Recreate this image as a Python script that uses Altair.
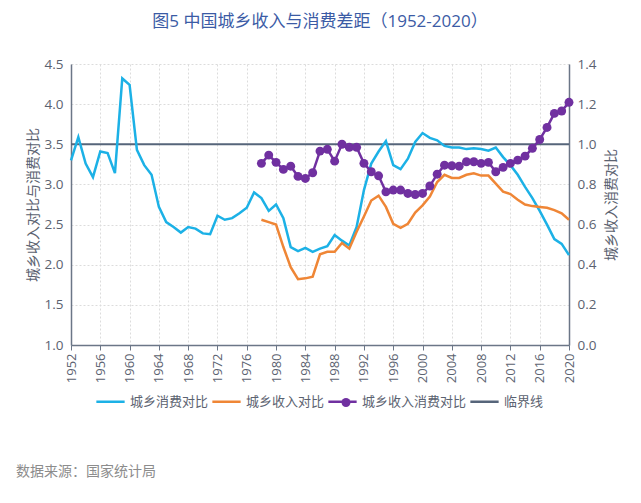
import altair as alt
import pandas as pd

# ---------------- data ----------------
years_all = list(range(1952, 2021))
consumption_ratio = [
    3.30, 3.59, 3.26, 3.09, 3.41, 3.39, 3.14, 4.32, 4.24, 3.43,
    3.24, 3.12, 2.72, 2.53, 2.47, 2.40, 2.47, 2.45, 2.39, 2.38,
    2.61, 2.56, 2.58, 2.64, 2.71, 2.90, 2.83, 2.67, 2.75, 2.58,
    2.22, 2.17, 2.21, 2.16, 2.20, 2.23, 2.37, 2.30, 2.24, 2.47,
    2.93, 3.26, 3.41, 3.54, 3.24, 3.19, 3.32, 3.53, 3.64, 3.58,
    3.55, 3.48, 3.46, 3.46, 3.44, 3.45, 3.44, 3.42, 3.46, 3.34,
    3.24, 3.12, 2.97, 2.83, 2.67, 2.50, 2.32, 2.26, 2.12,
]
years_ref = list(range(1978, 2021))
income_ratio = [
    2.56, 2.53, 2.50, 2.22, 1.97, 1.82, 1.83, 1.85, 2.13, 2.16,
    2.16, 2.27, 2.20, 2.41, 2.60, 2.80, 2.86, 2.72, 2.51, 2.46,
    2.51, 2.65, 2.74, 2.85, 3.03, 3.12, 3.08, 3.08, 3.12, 3.14,
    3.11, 3.11, 3.01, 2.91, 2.88, 2.81, 2.75, 2.73, 2.72, 2.71,
    2.68, 2.64, 2.56,
]
income_consumption_ratio = [
    0.905, 0.946, 0.910, 0.875, 0.891, 0.840, 0.830, 0.858, 0.966, 0.975,
    0.916, 1.000, 0.985, 0.985, 0.905, 0.863, 0.843, 0.763, 0.772, 0.772,
    0.755, 0.750, 0.755, 0.792, 0.851, 0.896, 0.893, 0.891, 0.913, 0.913,
    0.905, 0.910, 0.863, 0.885, 0.905, 0.921, 0.941, 0.980, 1.024, 1.084,
    1.154, 1.166, 1.209,
]
critical_value = [3.5]

series_names = ["城乡消费对比", "城乡收入对比", "城乡收入消费对比", "临界线"]
series_colors = ["#1cb1e6", "#ef8636", "#7030a0", "#56657a"]

x_ticks = list(range(1952, 2021, 4))
left_ticks = [1.0, 1.5, 2.0, 2.5, 3.0, 3.5, 4.0, 4.5]
right_ticks = [0.0, 0.2, 0.4, 0.6, 0.8, 1.0, 1.2, 1.4]

title_text = "图5 中国城乡收入与消费差距（1952-2020）"
source_text = "数据来源：国家统计局"

# ---------------- frames ----------------
df_cons = pd.DataFrame({"year": years_all, "v": consumption_ratio, "series": series_names[0]})
df_inc = pd.DataFrame({"year": years_ref, "v": income_ratio, "series": series_names[1]})
df_ic = pd.DataFrame({"year": years_ref, "v": income_consumption_ratio, "series": series_names[2]})
df_crit = pd.DataFrame({"v": critical_value, "series": [series_names[3]]})
df_src = pd.DataFrame({"t": [source_text]})

FONT = "Open Sans, Noto Sans CJK SC, sans-serif"
AXIS_COLOR = "#6b7687"
LABEL_COLOR = "#5b6270"

LEG_X, LEG_Y = 24, 322

color = alt.Color(
    "series:N",
    scale=alt.Scale(domain=series_names, range=series_colors),
    legend=alt.Legend(
        orient="none",
        legendX=LEG_X,
        legendY=LEG_Y,
        direction="horizontal",
        title=None,
        symbolType="stroke",
        symbolSize=800,
        symbolStrokeWidth=2.5,
        labelFontSize=13,
        labelFont=FONT,
        labelColor=LABEL_COLOR,
        labelOffset=4,
        columnPadding=-2,
    ),
)

x_axis = alt.Axis(
    values=x_ticks, format="d", labelAngle=-90, title=None, labelOverlap=False,
    grid=True, gridColor="#dcdcdc", gridDash=[2, 2], gridWidth=1,
    domainColor=AXIS_COLOR, domainWidth=1.5, tickColor=AXIS_COLOR, tickSize=5,
    labelPadding=3, labelFontSize=13, labelColor=LABEL_COLOR, labelFont=FONT,
)
x_scale = alt.Scale(domain=[1952, 2020], nice=False, zero=False)


def x_enc():
    return alt.X("year:Q", scale=x_scale, axis=x_axis)


left_scale = alt.Scale(domain=[1.0, 4.5], nice=False, zero=False)
left_axis = alt.Axis(
    values=left_ticks, format=".1f", title="城乡收入对比与消费对比",
    grid=True, gridColor="#dcdcdc", gridDash=[2, 2], gridWidth=1,
    domainColor=AXIS_COLOR, domainWidth=1.5, ticks=False, labelPadding=8,
    labelFontSize=13.5, labelColor=LABEL_COLOR, labelFont=FONT,
    titleFontSize=14, titleColor=LABEL_COLOR, titleFont=FONT, titleFontWeight="normal",
    titlePadding=4,
)
right_axis = alt.Axis(
    values=right_ticks, format=".1f", title="城乡收入消费对比", orient="right",
    grid=False, domainColor=AXIS_COLOR, domainWidth=1.5, ticks=False, labelPadding=8,
    labelFontSize=13.5, labelColor=LABEL_COLOR, labelFont=FONT,
    titleFontSize=14, titleColor=LABEL_COLOR, titleFont=FONT, titleFontWeight="normal",
    titlePadding=23, titleAngle=270,
)

cons_line = alt.Chart(df_cons).mark_line(strokeWidth=2.5).encode(
    x=x_enc(), y=alt.Y("v:Q", scale=left_scale, axis=left_axis), color=color,
)
inc_line = alt.Chart(df_inc).mark_line(strokeWidth=2.5).encode(
    x=x_enc(), y=alt.Y("v:Q", scale=left_scale, axis=left_axis), color=color,
)
crit_rule = alt.Chart(df_crit).mark_rule(strokeWidth=2).encode(
    y=alt.Y("v:Q", scale=left_scale, axis=left_axis), color=color,
)
left_layer = alt.layer(crit_rule, cons_line, inc_line)

right_scale = alt.Scale(domain=[0.0, 1.4], nice=False, zero=False)
ic_line = alt.Chart(df_ic).mark_line(strokeWidth=2.5).encode(
    x=x_enc(),
    y=alt.Y("v:Q", scale=right_scale, axis=right_axis),
    color=color,
)
ic_pts = alt.Chart(df_ic).mark_point(size=80, opacity=1, filled=True, color="#7030a0").encode(
    x=x_enc(), y=alt.Y("v:Q", scale=right_scale, axis=right_axis),
    shape=alt.Shape(
        "series:N",
        scale=alt.Scale(domain=[series_names[2]], range=["circle"]),
        legend=alt.Legend(
            orient="none", legendX=LEG_X + 246, legendY=LEG_Y + 11.5,
            title=None, labelExpr="''", symbolSize=80,
            symbolFillColor="#7030a0", symbolStrokeColor="#7030a0", symbolStrokeWidth=0,
        ),
    ),
)
right_layer = alt.layer(ic_line, ic_pts)

source = alt.Chart(df_src).mark_text(
    align="left", baseline="middle", fontSize=14, color="#8c8c8c", font=FONT,
).encode(x=alt.value(-55), y=alt.value(408), text="t:N")

chart = alt.layer(left_layer, right_layer, source).resolve_scale(
    y="independent"
).properties(
    width=498,
    height=281,
    autosize=alt.AutoSizeParams(type="none"),
    padding={"left": 63, "top": 56, "right": 64, "bottom": 150},
    title=alt.TitleParams(
        text=title_text, fontSize=17, color="#3b5ba5", font=FONT,
        fontWeight="normal", anchor="middle", frame="group", offset=26,
    ),
).configure_view(stroke=None).configure_axisX(labelOverlap=False)

chart.save("out.html", embed_options={"renderer": "svg", "actions": False})
